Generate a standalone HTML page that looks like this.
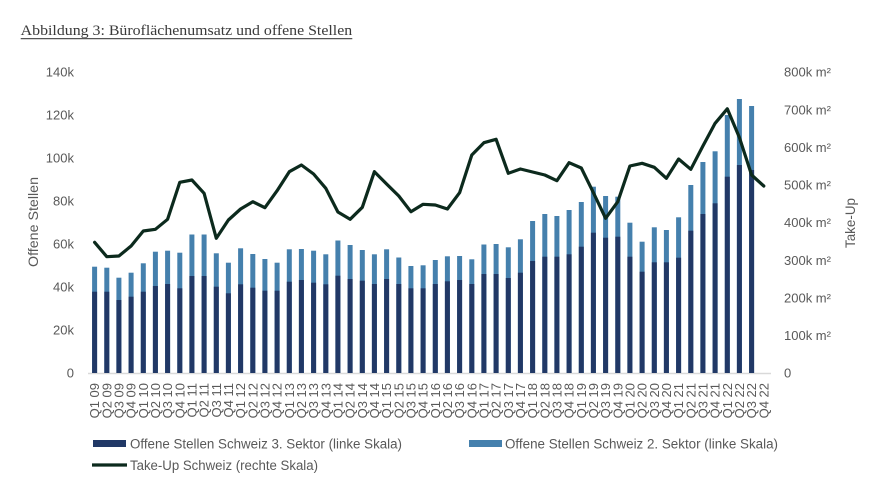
<!DOCTYPE html>
<html><head><meta charset="utf-8"><style>
html,body{margin:0;padding:0;background:#fff;}
svg{display:block;}
text{font-family:"Liberation Sans",sans-serif;fill:#595959;}
</style></head><body>
<svg width="895" height="480" viewBox="0 0 895 480" xmlns="http://www.w3.org/2000/svg">
<rect width="895" height="480" fill="#fff"/>
<text x="20.7" y="35" style="font-family:'Liberation Serif',serif;font-size:14.5px;fill:#3a3a3a" textLength="331.5" lengthAdjust="spacingAndGlyphs">Abbildung 3: Büroflächenumsatz und offene Stellen</text>
<line x1="20.7" y1="38.6" x2="352.3" y2="38.6" stroke="#555" stroke-width="1.2"/>

<g font-size="13" text-anchor="end">
<text x="74" y="377.7">0</text>
<text x="74" y="334.7">20k</text>
<text x="74" y="291.7">40k</text>
<text x="74" y="248.7">60k</text>
<text x="74" y="205.7">80k</text>
<text x="74" y="162.7">100k</text>
<text x="74" y="119.7">120k</text>
<text x="74" y="76.7">140k</text>
</g>
<g font-size="13">
<text x="784" y="377.7">0</text>
<text x="784" y="340.1">100k m²</text>
<text x="784" y="302.5">200k m²</text>
<text x="784" y="264.8">300k m²</text>
<text x="784" y="227.2">400k m²</text>
<text x="784" y="189.6">500k m²</text>
<text x="784" y="152">600k m²</text>
<text x="784" y="114.3">700k m²</text>
<text x="784" y="76.7">800k m²</text>
</g>
<text transform="translate(38,222) rotate(-90)" font-size="13.5" text-anchor="middle" textLength="90" lengthAdjust="spacingAndGlyphs">Offene Stellen</text>
<text transform="translate(855,223) rotate(-90)" font-size="13.5" text-anchor="middle" textLength="50" lengthAdjust="spacingAndGlyphs">Take-Up</text>

<line x1="88" y1="373.5" x2="771" y2="373.5" stroke="#d9d9d9" stroke-width="1.5"/>

<g fill="#4580ad">
<rect x="92.1" y="266.7" width="5" height="106.3"/>
<rect x="104.3" y="267.7" width="5" height="105.3"/>
<rect x="116.4" y="277.7" width="5" height="95.3"/>
<rect x="128.6" y="272.7" width="5" height="100.3"/>
<rect x="140.8" y="263.3" width="5" height="109.7"/>
<rect x="152.9" y="251.7" width="5" height="121.3"/>
<rect x="165.1" y="250.7" width="5" height="122.3"/>
<rect x="177.3" y="252.7" width="5" height="120.3"/>
<rect x="189.4" y="234.5" width="5" height="138.5"/>
<rect x="201.6" y="234.5" width="5" height="138.5"/>
<rect x="213.8" y="253.3" width="5" height="119.7"/>
<rect x="225.9" y="262.7" width="5" height="110.3"/>
<rect x="238.1" y="248.3" width="5" height="124.7"/>
<rect x="250.3" y="254" width="5" height="119"/>
<rect x="262.4" y="259" width="5" height="114"/>
<rect x="274.6" y="262.7" width="5" height="110.3"/>
<rect x="286.8" y="249.3" width="5" height="123.7"/>
<rect x="298.9" y="249" width="5" height="124"/>
<rect x="311.1" y="250.7" width="5" height="122.3"/>
<rect x="323.3" y="254.3" width="5" height="118.7"/>
<rect x="335.4" y="240.5" width="5" height="132.5"/>
<rect x="347.6" y="245" width="5" height="128"/>
<rect x="359.8" y="250" width="5" height="123"/>
<rect x="371.9" y="254.3" width="5" height="118.7"/>
<rect x="384.1" y="249.3" width="5" height="123.7"/>
<rect x="396.3" y="257.5" width="5" height="115.5"/>
<rect x="408.4" y="266" width="5" height="107"/>
<rect x="420.6" y="265.3" width="5" height="107.7"/>
<rect x="432.8" y="260" width="5" height="113"/>
<rect x="444.9" y="256.3" width="5" height="116.7"/>
<rect x="457.1" y="256" width="5" height="117"/>
<rect x="469.3" y="259.3" width="5" height="113.7"/>
<rect x="481.4" y="244.5" width="5" height="128.5"/>
<rect x="493.6" y="244" width="5" height="129"/>
<rect x="505.8" y="247.3" width="5" height="125.7"/>
<rect x="517.9" y="239.3" width="5" height="133.7"/>
<rect x="530.1" y="221" width="5" height="152"/>
<rect x="542.3" y="214" width="5" height="159"/>
<rect x="554.4" y="216" width="5" height="157"/>
<rect x="566.6" y="210" width="5" height="163"/>
<rect x="578.8" y="202" width="5" height="171"/>
<rect x="590.9" y="186.7" width="5" height="186.3"/>
<rect x="603.1" y="196" width="5" height="177"/>
<rect x="615.3" y="196.7" width="5" height="176.3"/>
<rect x="627.4" y="222.7" width="5" height="150.3"/>
<rect x="639.6" y="241.7" width="5" height="131.3"/>
<rect x="651.8" y="227.3" width="5" height="145.7"/>
<rect x="663.9" y="230" width="5" height="143"/>
<rect x="676.1" y="217.3" width="5" height="155.7"/>
<rect x="688.3" y="185" width="5" height="188"/>
<rect x="700.4" y="162" width="5" height="211"/>
<rect x="712.6" y="151.3" width="5" height="221.7"/>
<rect x="724.8" y="115" width="5" height="258"/>
<rect x="736.9" y="99" width="5" height="274"/>
<rect x="749.1" y="106" width="5" height="267"/>
</g>
<g fill="#213866">
<rect x="92.1" y="291.7" width="5" height="81.3"/>
<rect x="104.3" y="291.7" width="5" height="81.3"/>
<rect x="116.4" y="300" width="5" height="73"/>
<rect x="128.6" y="296.7" width="5" height="76.3"/>
<rect x="140.8" y="291.7" width="5" height="81.3"/>
<rect x="152.9" y="286" width="5" height="87"/>
<rect x="165.1" y="284" width="5" height="89"/>
<rect x="177.3" y="288.3" width="5" height="84.7"/>
<rect x="189.4" y="276" width="5" height="97"/>
<rect x="201.6" y="276" width="5" height="97"/>
<rect x="213.8" y="286.7" width="5" height="86.3"/>
<rect x="225.9" y="293.3" width="5" height="79.7"/>
<rect x="238.1" y="284.3" width="5" height="88.7"/>
<rect x="250.3" y="287.7" width="5" height="85.3"/>
<rect x="262.4" y="290.7" width="5" height="82.3"/>
<rect x="274.6" y="290.7" width="5" height="82.3"/>
<rect x="286.8" y="281.7" width="5" height="91.3"/>
<rect x="298.9" y="280" width="5" height="93"/>
<rect x="311.1" y="282.7" width="5" height="90.3"/>
<rect x="323.3" y="284.3" width="5" height="88.7"/>
<rect x="335.4" y="275.7" width="5" height="97.3"/>
<rect x="347.6" y="279" width="5" height="94"/>
<rect x="359.8" y="280.7" width="5" height="92.3"/>
<rect x="371.9" y="284" width="5" height="89"/>
<rect x="384.1" y="279" width="5" height="94"/>
<rect x="396.3" y="284" width="5" height="89"/>
<rect x="408.4" y="288.3" width="5" height="84.7"/>
<rect x="420.6" y="288.3" width="5" height="84.7"/>
<rect x="432.8" y="284" width="5" height="89"/>
<rect x="444.9" y="281.3" width="5" height="91.7"/>
<rect x="457.1" y="280" width="5" height="93"/>
<rect x="469.3" y="284" width="5" height="89"/>
<rect x="481.4" y="274" width="5" height="99"/>
<rect x="493.6" y="274" width="5" height="99"/>
<rect x="505.8" y="278" width="5" height="95"/>
<rect x="517.9" y="272.7" width="5" height="100.3"/>
<rect x="530.1" y="261" width="5" height="112"/>
<rect x="542.3" y="256.7" width="5" height="116.3"/>
<rect x="554.4" y="256.7" width="5" height="116.3"/>
<rect x="566.6" y="254.3" width="5" height="118.7"/>
<rect x="578.8" y="246.7" width="5" height="126.3"/>
<rect x="590.9" y="232.7" width="5" height="140.3"/>
<rect x="603.1" y="237.7" width="5" height="135.3"/>
<rect x="615.3" y="236.7" width="5" height="136.3"/>
<rect x="627.4" y="256.7" width="5" height="116.3"/>
<rect x="639.6" y="271.7" width="5" height="101.3"/>
<rect x="651.8" y="262.3" width="5" height="110.7"/>
<rect x="663.9" y="262.3" width="5" height="110.7"/>
<rect x="676.1" y="257.7" width="5" height="115.3"/>
<rect x="688.3" y="230.7" width="5" height="142.3"/>
<rect x="700.4" y="214" width="5" height="159"/>
<rect x="712.6" y="203.3" width="5" height="169.7"/>
<rect x="724.8" y="176.7" width="5" height="196.3"/>
<rect x="736.9" y="165" width="5" height="208"/>
<rect x="749.1" y="170" width="5" height="203"/>
</g>

<polyline fill="none" stroke="#0c2a1d" stroke-width="3.2" stroke-linejoin="round" stroke-linecap="round" points="94.6,242.3 106.8,256.7 118.9,256 131.1,246 143.3,231 155.4,229.3 167.6,219.3 179.8,182.3 191.9,180 204.1,193.3 216.3,238.3 228.4,220 240.6,209 252.8,201.7 264.9,207.7 277.1,190.7 289.3,171.7 301.4,165 313.6,174 325.8,188.3 337.9,212 350.1,219.3 362.3,207.3 374.4,171.7 386.6,184 398.8,196 410.9,211.7 423.1,204.3 435.3,205 447.4,209 459.6,192.7 471.8,155 483.9,142.7 496.1,139.3 508.3,173.3 520.4,169 532.6,172 544.8,175 556.9,180.7 569.1,162.7 581.3,168 593.4,192.7 605.6,218.3 617.8,201.7 629.9,166 642.1,163.3 654.3,167.3 666.4,178.3 678.6,159 690.8,169.3 702.9,146 715.1,123.3 727.3,108.8 739.4,137.5 751.6,175 763.8,186"/>

<g font-size="13" text-anchor="end">
<text transform="translate(99.2,383) rotate(-90)">Q1 09</text>
<text transform="translate(111.4,383) rotate(-90)">Q2 09</text>
<text transform="translate(123.5,383) rotate(-90)">Q3 09</text>
<text transform="translate(135.7,383) rotate(-90)">Q4 09</text>
<text transform="translate(147.9,383) rotate(-90)">Q1 10</text>
<text transform="translate(160,383) rotate(-90)">Q2 10</text>
<text transform="translate(172.2,383) rotate(-90)">Q3 10</text>
<text transform="translate(184.4,383) rotate(-90)">Q4 10</text>
<text transform="translate(196.5,383) rotate(-90)">Q1 11</text>
<text transform="translate(208.7,383) rotate(-90)">Q2 11</text>
<text transform="translate(220.9,383) rotate(-90)">Q3 11</text>
<text transform="translate(233,383) rotate(-90)">Q4 11</text>
<text transform="translate(245.2,383) rotate(-90)">Q1 12</text>
<text transform="translate(257.4,383) rotate(-90)">Q2 12</text>
<text transform="translate(269.5,383) rotate(-90)">Q3 12</text>
<text transform="translate(281.7,383) rotate(-90)">Q4 12</text>
<text transform="translate(293.9,383) rotate(-90)">Q1 13</text>
<text transform="translate(306,383) rotate(-90)">Q2 13</text>
<text transform="translate(318.2,383) rotate(-90)">Q3 13</text>
<text transform="translate(330.4,383) rotate(-90)">Q4 13</text>
<text transform="translate(342.5,383) rotate(-90)">Q1 14</text>
<text transform="translate(354.7,383) rotate(-90)">Q2 14</text>
<text transform="translate(366.9,383) rotate(-90)">Q3 14</text>
<text transform="translate(379,383) rotate(-90)">Q4 14</text>
<text transform="translate(391.2,383) rotate(-90)">Q1 15</text>
<text transform="translate(403.4,383) rotate(-90)">Q2 15</text>
<text transform="translate(415.5,383) rotate(-90)">Q3 15</text>
<text transform="translate(427.7,383) rotate(-90)">Q4 15</text>
<text transform="translate(439.9,383) rotate(-90)">Q1 16</text>
<text transform="translate(452,383) rotate(-90)">Q2 16</text>
<text transform="translate(464.2,383) rotate(-90)">Q3 16</text>
<text transform="translate(476.4,383) rotate(-90)">Q4 16</text>
<text transform="translate(488.5,383) rotate(-90)">Q1 17</text>
<text transform="translate(500.7,383) rotate(-90)">Q2 17</text>
<text transform="translate(512.9,383) rotate(-90)">Q3 17</text>
<text transform="translate(525,383) rotate(-90)">Q4 17</text>
<text transform="translate(537.2,383) rotate(-90)">Q1 18</text>
<text transform="translate(549.4,383) rotate(-90)">Q2 18</text>
<text transform="translate(561.5,383) rotate(-90)">Q3 18</text>
<text transform="translate(573.7,383) rotate(-90)">Q4 18</text>
<text transform="translate(585.9,383) rotate(-90)">Q1 19</text>
<text transform="translate(598,383) rotate(-90)">Q2 19</text>
<text transform="translate(610.2,383) rotate(-90)">Q3 19</text>
<text transform="translate(622.4,383) rotate(-90)">Q4 19</text>
<text transform="translate(634.5,383) rotate(-90)">Q1 20</text>
<text transform="translate(646.7,383) rotate(-90)">Q2 20</text>
<text transform="translate(658.9,383) rotate(-90)">Q3 20</text>
<text transform="translate(671,383) rotate(-90)">Q4 20</text>
<text transform="translate(683.2,383) rotate(-90)">Q1 21</text>
<text transform="translate(695.4,383) rotate(-90)">Q2 21</text>
<text transform="translate(707.5,383) rotate(-90)">Q3 21</text>
<text transform="translate(719.7,383) rotate(-90)">Q4 21</text>
<text transform="translate(731.9,383) rotate(-90)">Q1 22</text>
<text transform="translate(744,383) rotate(-90)">Q2 22</text>
<text transform="translate(756.2,383) rotate(-90)">Q3 22</text>
<text transform="translate(768.4,383) rotate(-90)">Q4 22</text>
</g>

<rect x="93" y="440" width="33" height="7" fill="#213866"/>
<text x="130" y="448.5" font-size="13.5" textLength="272" lengthAdjust="spacingAndGlyphs">Offene Stellen Schweiz 3. Sektor (linke Skala)</text>
<rect x="469" y="440" width="33" height="7" fill="#4580ad"/>
<text x="505" y="448.5" font-size="13.5" textLength="273" lengthAdjust="spacingAndGlyphs">Offene Stellen Schweiz 2. Sektor (linke Skala)</text>
<line x1="92" y1="465" x2="127" y2="465" stroke="#0c2a1d" stroke-width="3.2"/>
<text x="130" y="470" font-size="13.5" textLength="188" lengthAdjust="spacingAndGlyphs">Take-Up Schweiz (rechte Skala)</text>
</svg>
</body></html>
